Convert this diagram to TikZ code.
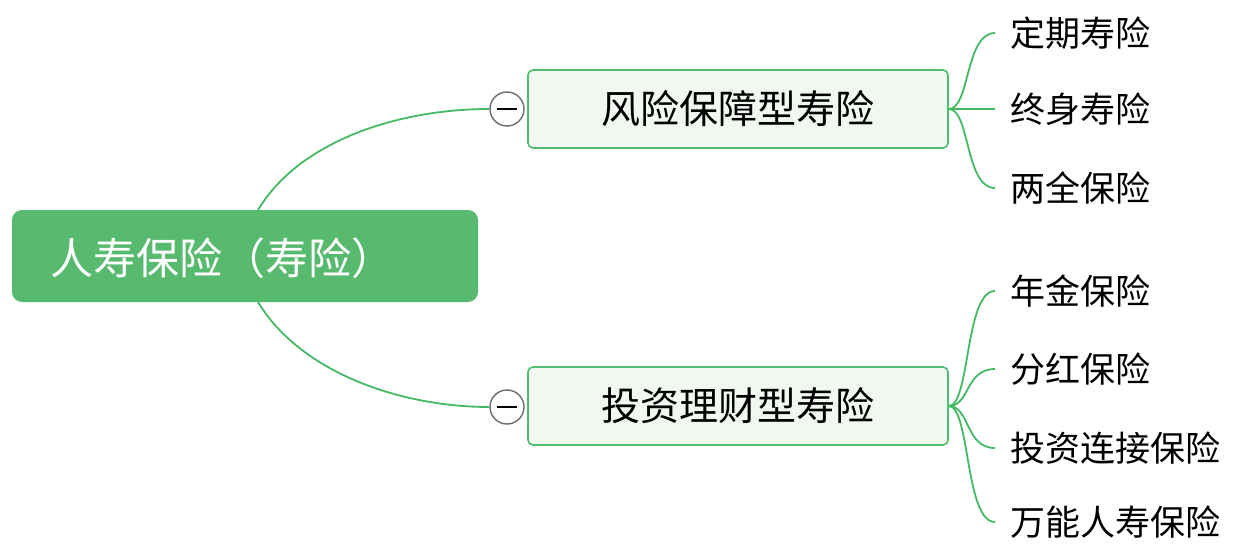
\documentclass[tikz,border=0pt]{standalone}
\usepackage{fontspec}
\setmainfont{Noto Sans CJK SC}
\begin{document}
\begin{tikzpicture}[x=1pt,y=-1pt,
  conn/.style={line width=1.8pt, color={rgb,255:red,70;green,185;blue,100}},
  rootbox/.style={fill={rgb,255:red,88;green,186;blue,110}, rounded corners=10pt, minimum width=466pt, minimum height=92pt, inner sep=0pt},
  subbox/.style={draw={rgb,255:red,80;green,190;blue,110}, line width=1.6pt, fill={rgb,255:red,240;green,248;blue,240}, rounded corners=5pt, minimum width=420pt, minimum height=78pt, font=\fontsize{39}{42}\selectfont, inner sep=0pt},
  leaf/.style={anchor=west, font=\fontsize{35}{38}\selectfont, inner sep=0pt},
  tog/.style={circle, draw={rgb,255:red,110;green,110;blue,110}, line width=1.4pt, fill=white, minimum size=34pt, inner sep=0pt}]
\useasboundingbox (0,0) rectangle (1246,556);
\fill[white] (0,0) rectangle (1246,556);
\node[rootbox] (root) at (245,256) {};
\node[anchor=west, text=white, font=\fontsize{43}{46}\selectfont, inner sep=0pt] (rt0) at (50,258) {人寿保险（寿险）};
\node[subbox] (a) at (738,109) {风险保障型寿险};
\node[subbox] (b) at (738,406) {投资理财型寿险};
\node[tog] (ta) at (507,109) {};
\node[tog] (tb) at (507,407) {};
\draw[line width=1.4pt] (ta.center)+(-10,0) -- +(10,0);
\draw[line width=1.4pt] (tb.center)+(-10,0) -- +(10,0);
\coordinate (rt) at (258,210);
\coordinate (rb) at (258,302);
\draw[conn] (rt) .. controls (300,140) and (400,109) .. (ta.west);
\draw[conn] (rb) .. controls (300,372) and (400,407) .. (tb.west);
\foreach \n/\y/\t in {a1/33/定期寿险,a2/109/终身寿险,a3/188/两全保险}{
  \node[leaf] (\n) at (1010,\y) {\t};
  \draw[conn] (a.east) .. controls (970,109) and (965,\y) .. (995,\y);
}
\foreach \n/\y/\t in {b1/291/年金保险,b2/369/分红保险,b3/448/投资连接保险,b4/522/万能人寿保险}{
  \node[leaf] (\n) at (1010,\y) {\t};
  \draw[conn] (b.east) .. controls (970,406) and (965,\y) .. (995,\y);
}
\end{tikzpicture}
\end{document}
